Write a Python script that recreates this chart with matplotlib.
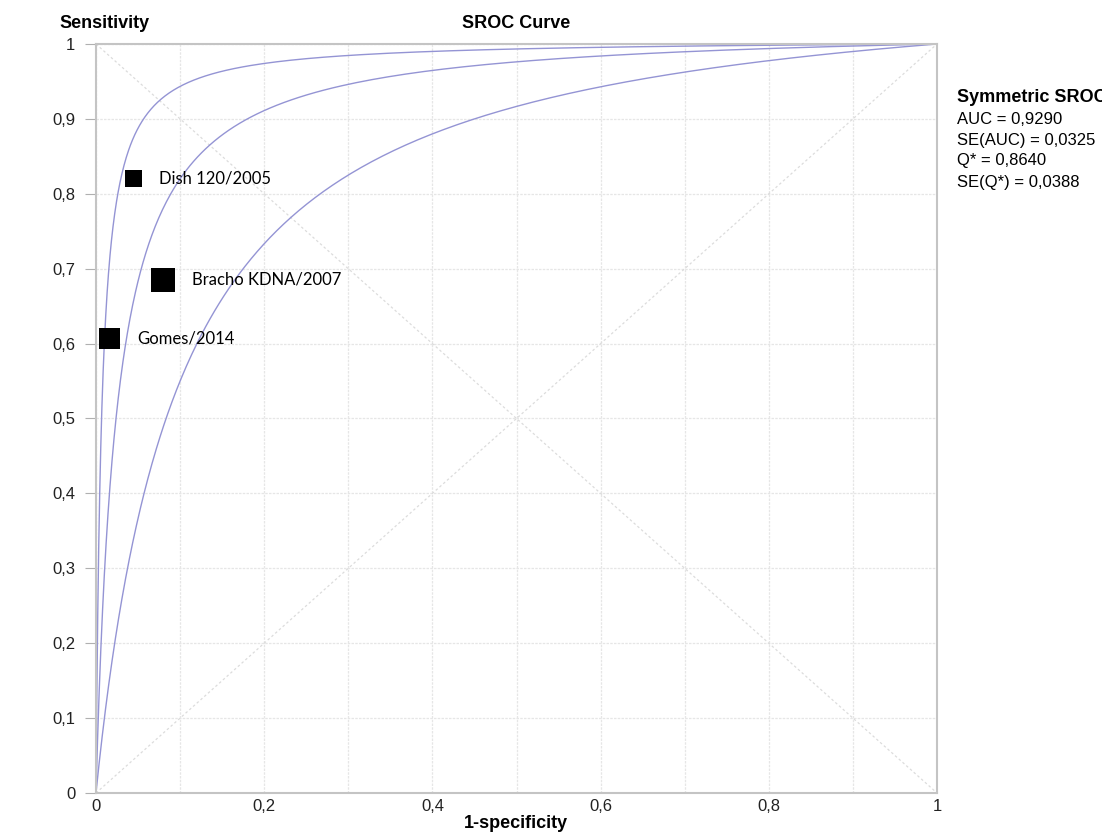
import matplotlib.pyplot as plt
import numpy as np

# Study points (1-specificity, sensitivity)
study_names = ["Dish 120/2005", "Bracho KDNA/2007", "Gomes/2014"]
study_fpr = [0.045, 0.080, 0.016]
study_sens = [0.821, 0.685, 0.607]
marker_area = [150, 300, 230]
label_offset = [18, 21, 20]

# diagnostic odds ratios of the symmetric SROC curves (upper, fitted, lower)
curve_dor = [150, 41, 11]

summary_lines = [
    "AUC = 0,9290",
    "SE(AUC) = 0,0325",
    "Q* = 0,8640",
    "SE(Q*) = 0,0388",
]

ticks = [0, 0.2, 0.4, 0.6, 0.8, 1]
tick_labels = ["0", "0,2", "0,4", "0,6", "0,8", "1"]
yticks = [0, 0.1, 0.2, 0.3, 0.4, 0.5, 0.6, 0.7, 0.8, 0.9, 1]
ytick_labels = ["0", "0,1", "0,2", "0,3", "0,4", "0,5", "0,6", "0,7", "0,8", "0,9", "1"]

plt.rcParams["font.family"] = ["Liberation Sans", "DejaVu Sans"]

fig = plt.figure(figsize=(11.02, 8.38), dpi=100)
ax = fig.add_axes([0.0871, 0.0537, 0.7632, 0.8938])

# reference diagonals
ax.plot([0, 1], [0, 1], color="#dcdcdc", linestyle=(0, (2, 2)), linewidth=0.9)
ax.plot([0, 1], [1, 0], color="#dcdcdc", linestyle=(0, (2, 2)), linewidth=0.9)

fpr = np.concatenate([[0], np.geomspace(1e-5, 1, 600)])
for dor in curve_dor:
    with np.errstate(divide="ignore"):
        sens = np.where(fpr > 0, 1 / (1 + (1 - fpr) / (fpr * dor)), 0)
    ax.plot(fpr, sens, color="#9494d4", linewidth=1.0)

ax.scatter(study_fpr, study_sens, s=marker_area, marker="s", color="black",
           zorder=5, linewidths=0)
for name, x, y, off in zip(study_names, study_fpr, study_sens, label_offset):
    ax.annotate(name, (x, y), xytext=(off, 0), textcoords="offset points",
                va="center", ha="left", fontsize=12, family=["Lato", "DejaVu Sans"])

ax.set_xlim(0, 1)
ax.set_ylim(0, 1)
ax.set_xticks(ticks)
ax.set_xticklabels(tick_labels)
ax.set_yticks(yticks)
ax.set_yticklabels(ytick_labels)
ax.set_xticks(np.arange(0.1, 1, 0.1), minor=True)
ax.tick_params(axis="x", length=0, pad=4, labelsize=12, colors="#222222", which="both")
ax.tick_params(axis="y", length=8, pad=7, labelsize=12, colors="#222222",
               color="#b0b0b0")
ax.tick_params(axis="x", labelcolor="#222222")
ax.grid(True, which="both", color="#e6e6e6", linestyle=(0, (2, 1)), linewidth=0.9)
ax.set_axisbelow(True)
for sp in ax.spines.values():
    sp.set_color("#c4c4c4")
    sp.set_linewidth(1.5)

fig.text(59 / 1102, 1 - 23 / 838, "Sensitivity", fontsize=13, fontweight="bold",
         va="center", ha="left")
fig.text(516 / 1102, 1 - 23 / 838, "SROC Curve", fontsize=13, fontweight="bold",
         va="center", ha="center")
fig.text(516 / 1102, 1 - 823 / 838, "1-specificity", fontsize=13, fontweight="bold",
         va="center", ha="center")

fig.text(957 / 1102, 1 - 98 / 838, "Symmetric SROC", fontsize=13, fontweight="bold",
         va="center", ha="left")
for i, line in enumerate(summary_lines):
    fig.text(957 / 1102, 1 - (119 + 21 * i) / 838, line, fontsize=12,
             va="center", ha="left")

fig.savefig("out.png", dpi=100)
